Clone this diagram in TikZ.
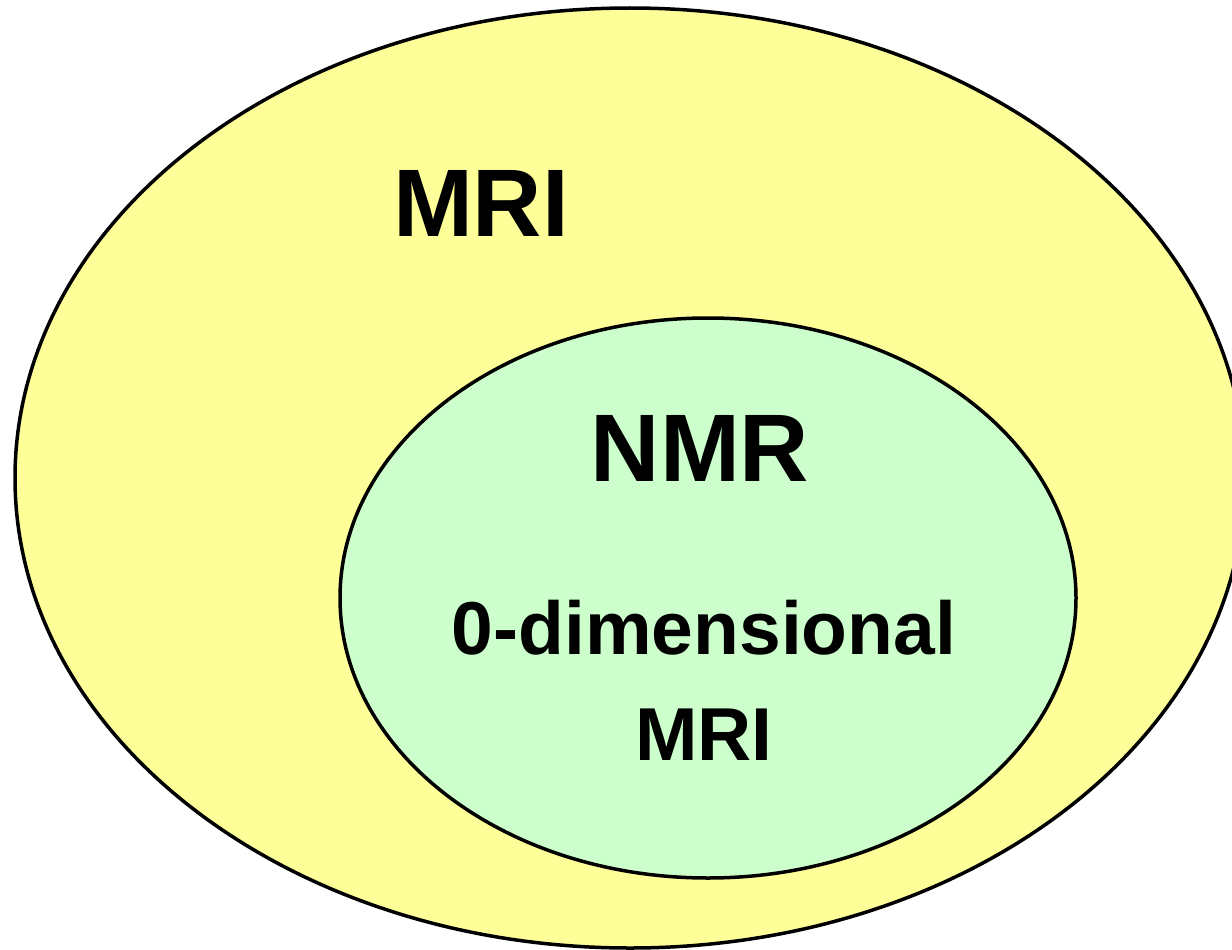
\documentclass[tikz,border=0pt]{standalone}
\usepackage{fontspec}
\setmainfont{Liberation Sans}
\definecolor{outery}{HTML}{FFFF99}
\definecolor{innerg}{HTML}{CCFFCC}
\begin{document}
\begin{tikzpicture}[x=1pt,y=-1pt,
  blob/.style={draw=black,line width=3.5pt},
  big/.style={font=\fontsize{96}{110}\selectfont\bfseries,inner sep=0pt},
  mid/.style={font=\fontsize{75}{106}\selectfont\bfseries,inner sep=0pt,align=center}]
\useasboundingbox (0,0) rectangle (1232,950);
\clip (0,0) rectangle (1232,950);
\fill[white] (0,0) rectangle (1232,950);
\path[blob,fill=outery] (630,478) ellipse [x radius=615, y radius=470];
\path[blob,fill=innerg] (708,598) ellipse [x radius=368, y radius=280];
\node[big] (mri) at (481,203) {MRI};
\node[big] (nmr) at (700,448) {NMR};
\node[mid] (zero) at (704,680) {0-dimensional\\MRI};
\end{tikzpicture}
\end{document}
